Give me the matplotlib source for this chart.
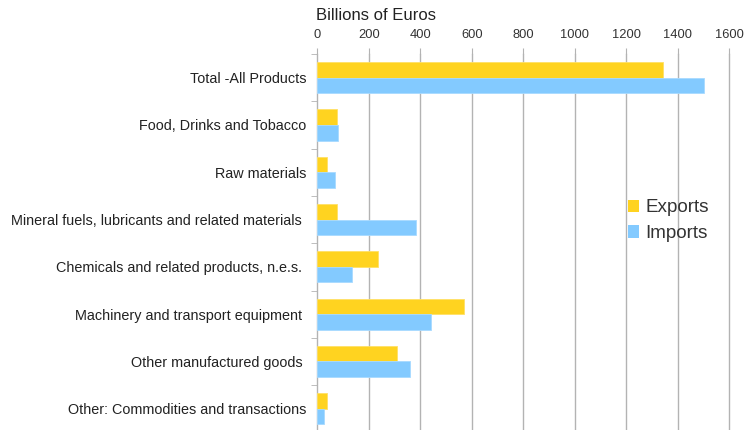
import matplotlib
matplotlib.use("Agg")
import matplotlib.pyplot as plt
import numpy as np
from matplotlib.patches import Patch

plt.rcParams['font.family'] = ['Liberation Sans', 'DejaVu Sans']

# === Data ===
categories = [
    "Total -All Products",
    "Food, Drinks and Tobacco",
    "Raw materials",
    "Mineral fuels, lubricants and related materials ",
    "Chemicals and related products, n.e.s. ",
    "Machinery and transport equipment ",
    "Other manufactured goods ",
    "Other: Commodities and transactions",
]
exports = [1343, 75, 36, 75, 235, 570, 310, 39]
imports = [1503, 80, 70, 382, 136, 443, 360, 27]
x_ticks = [0, 200, 400, 600, 800, 1000, 1200, 1400, 1600]

# === Style ===
c_exp = "#ffd320"
c_imp = "#83caff"
grid_c = "#b3b3b3"

fig = plt.figure(figsize=(7.46, 4.30), dpi=100)
ax = fig.add_axes([317.3 / 746, -2.4 / 430, (729 - 317.3) / 746, 378.4 / 430])

y = np.arange(len(categories))
h = 0.33
ax.barh(y - h / 2, exports, height=h, color=c_exp, edgecolor="#ffe066", linewidth=0.6, label="Exports", zorder=3)
ax.barh(y + h / 2, imports, height=h, color=c_imp, edgecolor="#a8daff", linewidth=0.6, label="Imports", zorder=3)

ax.set_xlim(0, 1600)
ax.set_ylim(len(categories) - 0.5, -0.5)
ax.set_xticks(x_ticks)
ax.xaxis.tick_top()
ax.tick_params(axis='x', length=4.3, color=grid_c, labelsize=9.3, pad=5, labelcolor="#333333")
ax.grid(axis='x', color=grid_c, linewidth=1, zorder=0)
for gl in ax.get_xgridlines():
    gl.set_clip_on(False)

ax.set_yticks(y)
ax.set_yticklabels(categories)
ax.set_yticks(np.arange(len(categories) + 1) - 0.5, minor=True)
ax.tick_params(axis='y', which='major', length=0, pad=8, labelsize=10.4, labelcolor="#222222")
ax.tick_params(axis='y', which='minor', length=4.3, color=grid_c)

for s in ax.spines.values():
    s.set_visible(False)

fig.text(316 / 746, 1 - 8 / 430, "Billions of Euros", fontsize=12, va='top', ha='left', color="#222222")

handles = [Patch(facecolor=c_exp, label="Exports"), Patch(facecolor=c_imp, label="Imports")]
fig.legend(handles=handles, loc='upper left', bbox_to_anchor=(624 / 746, 1 - 195.5 / 430),
           frameon=False, fontsize=13.6, handlelength=0.62, handleheight=0.62,
           handletextpad=0.3, labelspacing=0.47, borderaxespad=0, borderpad=0.2,
           labelcolor="#333333")

fig.savefig("out.png", dpi=100)
